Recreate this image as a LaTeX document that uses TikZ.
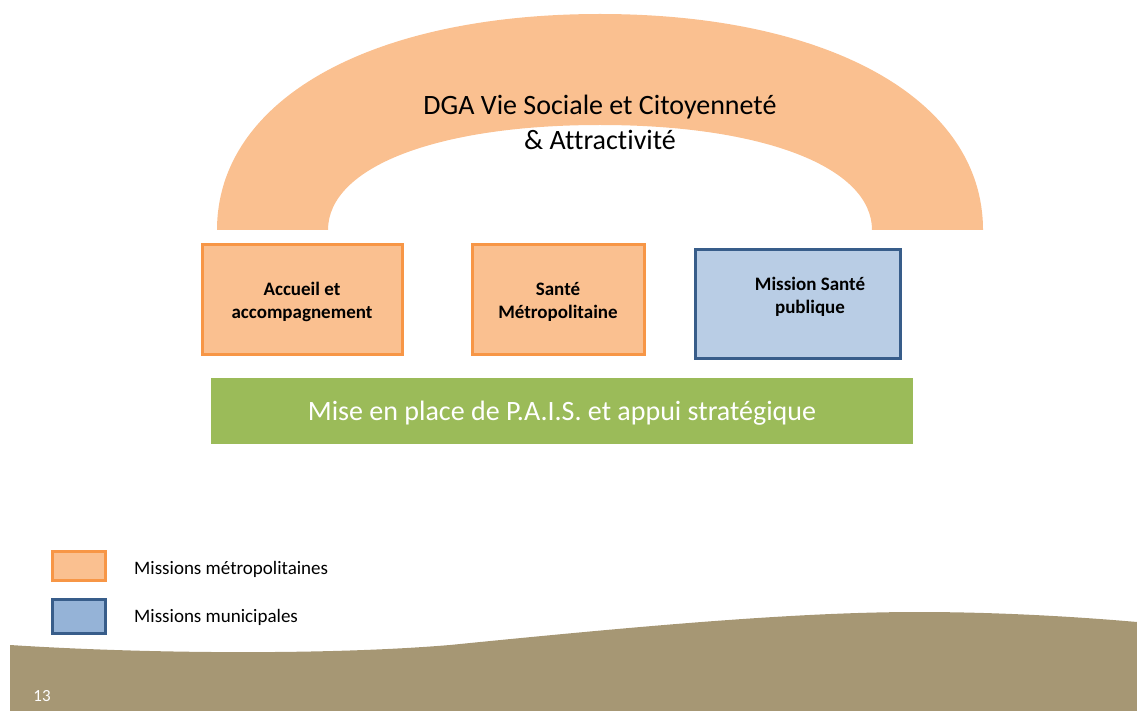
\documentclass[tikz,border=0pt]{standalone}
\usepackage{fontspec}
\setmainfont{Carlito}[Ligatures=NoCommon]
\definecolor{peach}{HTML}{FAC090}
\definecolor{peachline}{HTML}{F79646}
\definecolor{paleblue}{HTML}{B9CDE5}
\definecolor{legendblue}{HTML}{95B3D7}
\definecolor{blueline}{HTML}{385D8A}
\definecolor{leafgreen}{HTML}{9BBB59}
\definecolor{sand}{HTML}{A69774}
\begin{document}
\begin{tikzpicture}[x=1pt,y=-1pt,
    mbox/.style={line width=3pt,inner sep=0pt,align=center,font=\fontsize{19}{23}\selectfont\bfseries},
    metro/.style={mbox,draw=peachline,fill=peach},
    muni/.style={mbox,draw=blueline,fill=paleblue},
    legtext/.style={anchor=west,inner sep=0pt,font=\fontsize{19}{23}\selectfont}]
    \useasboundingbox (0,0) rectangle (1137,711);
    % bottom band
    \fill[sand] (10,645) .. controls (150,654) and (330,655) .. (450,645)
        .. controls (650,625) and (800,612) .. (918,612)
        .. controls (1000,612) and (1080,617) .. (1137,622) -- (1137,711) -- (10,711) -- cycle;
    \node[white,font=\fontsize{17}{20}\selectfont] (page) at (42,696) {13};
    % arch
    \fill[peach] (217,230) .. controls (217,100) and (370,14) .. (600,14)
        .. controls (830,14) and (983,100) .. (983,230) -- (872,230)
        .. controls (872,167) and (763,125) .. (600,125)
        .. controls (437,125) and (328,167) .. (328,230) -- cycle;
    \node[align=center,font=\fontsize{28}{35}\selectfont] (dga) at (600,122) {DGA Vie Sociale et Citoyennet\'e\\\& Attractivit\'e};
    % missions
    \node[metro,minimum width=200pt,minimum height=109pt] (accueil) at (302,299.5) {};
    \node[mbox,draw=none] (accueiltext) at (302,302) {Accueil et\\accompagnement};
    \node[metro,minimum width=172pt,minimum height=109pt] (sante) at (558,299.5) {};
    \node[mbox,draw=none] (santetext) at (558,302) {Sant\'e\\M\'etropolitaine};
    \node[muni,minimum width=205pt,minimum height=108pt] (mission) at (797.5,304) {};
    \node[mbox,draw=none] (missiontext) at (810,297) {Mission Sant\'e\\publique};
    \node[fill=leafgreen,minimum width=702pt,minimum height=66pt] (pais) at (562,411) {};
    \node[text=white,font=\fontsize{28}{34}\selectfont] (paistext) at (562,413) {Mise en place de P.A.I.S. et appui strat\'egique};
    % legend
    \node[draw=peachline,fill=peach,line width=3pt,minimum width=53pt,minimum height=29pt] (legmetro) at (78.5,565.5) {};
    \node[draw=blueline,fill=legendblue,line width=3pt,minimum width=53pt,minimum height=34pt] (legmuni) at (78.5,616) {};
    \node[legtext] (legmetrotext) at (134,569) {Missions m\'etropolitaines};
    \node[legtext] (legmunitext) at (134,617) {Missions municipales};
\end{tikzpicture}
\end{document}
